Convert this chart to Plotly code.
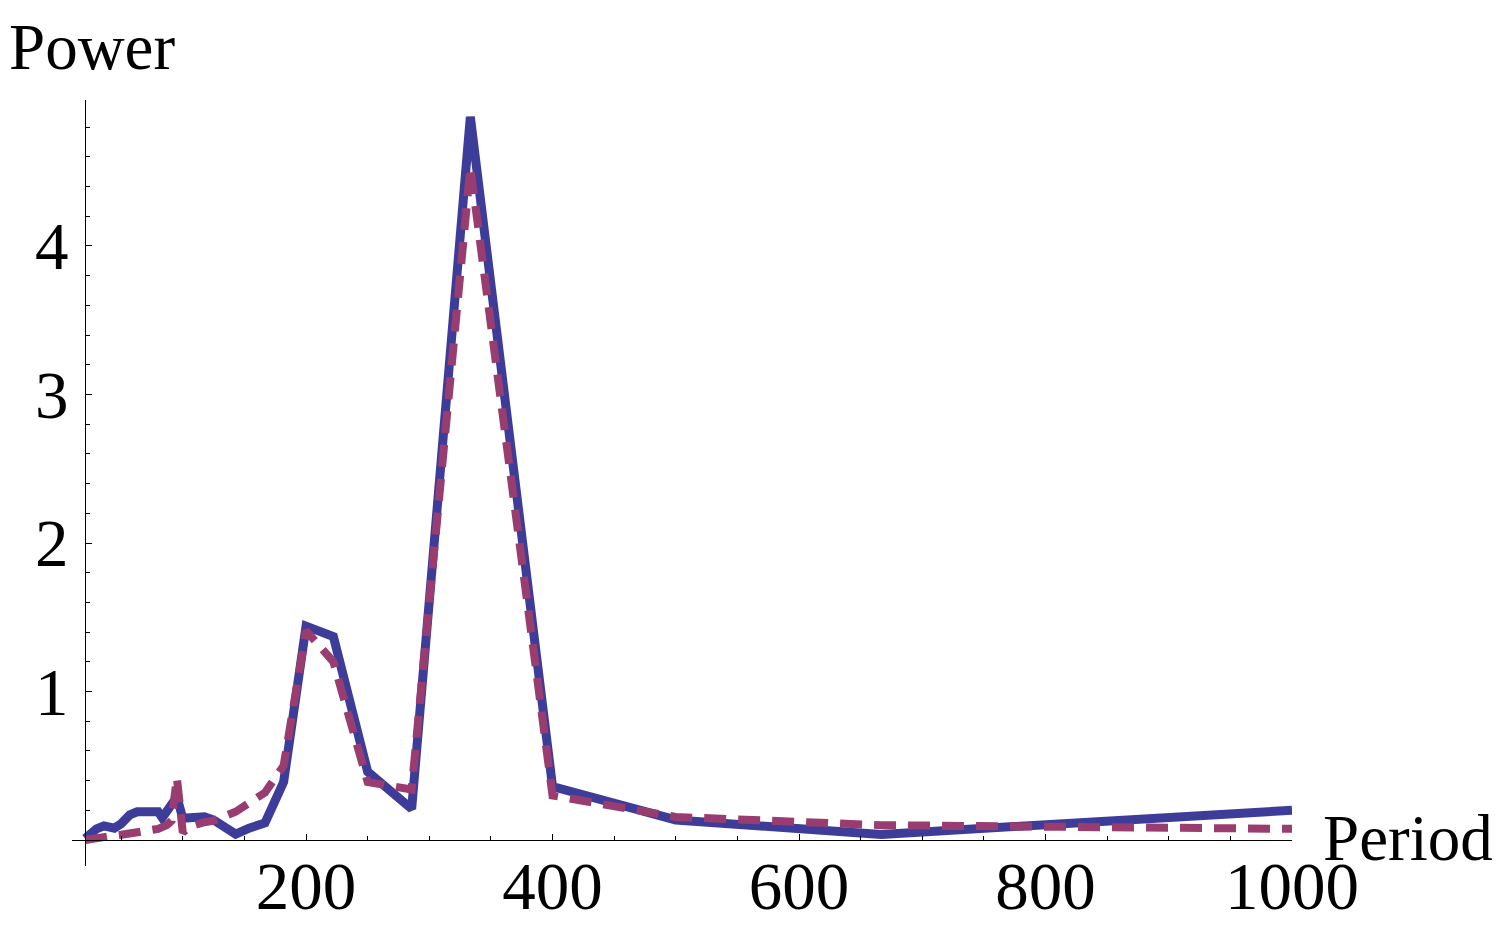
import plotly.graph_objects as go

# Period values (x) and power values for the two series
period_solid = [20.8, 26.0, 30.0, 36.0, 40.0, 44.4, 50.0, 57.0, 63.0, 71.0, 77.0, 80.0, 83.3,
                87.0, 90.9, 95.2, 100.0, 105.3, 111.1, 117.6, 125.0, 133.3, 142.9, 153.8,
                166.7, 181.8, 200.0, 222.2, 250.0, 285.7, 333.3, 400.0, 500.0, 666.7, 1000.0]
power_solid = [0.01, 0.05, 0.075, 0.095, 0.09, 0.08, 0.11, 0.17, 0.19, 0.19, 0.195, 0.19, 0.15,
               0.19, 0.22, 0.29, 0.146, 0.145, 0.145, 0.157, 0.135, 0.09, 0.04, 0.08,
               0.115, 0.39, 1.44, 1.37, 0.46, 0.21, 4.87, 0.36, 0.135, 0.038, 0.20]

period_dashed = [20.8, 28.6, 40.0, 50.0, 60.0, 71.4, 80.0, 87.0, 90.9, 95.2, 100.0, 105.3,
                 111.1, 117.6, 125.0, 133.3, 142.9, 153.8, 166.7, 181.8, 200.0, 222.2,
                 250.0, 285.7, 333.3, 400.0, 500.0, 666.7, 1000.0]
power_dashed = [0.0, 0.015, 0.025, 0.035, 0.05, 0.06, 0.075, 0.1, 0.13, 0.42, 0.05, 0.09,
                0.11, 0.12, 0.13, 0.16, 0.19, 0.25, 0.32, 0.5, 1.41, 1.2,
                0.39, 0.34, 4.53, 0.30, 0.155, 0.10, 0.075]

x_ticks = [200, 400, 600, 800, 1000]
y_ticks = [1, 2, 3, 4]

FONT = "Liberation Serif"
FS = 67
FS_TITLE = 65
BLUE = "#3D3D99"
MAGENTA = "#993D71"

fig = go.Figure()
fig.add_trace(go.Scatter(x=period_solid, y=power_solid, mode="lines",
                         line=dict(color=BLUE, width=9), showlegend=False))
fig.add_trace(go.Scatter(x=period_dashed, y=power_dashed, mode="lines",
                         line=dict(color=MAGENTA, width=8, dash="22px,12px"), showlegend=False))

x_min, x_max = 10.1, 1000.0
y_min, y_max = -0.175, 4.983
y_axis_pos = (20.65 - x_min) / (x_max - x_min)
x_axis_pos = (0 - y_min) / (y_max - y_min)

fig.update_layout(
    width=1492, height=922,
    margin=dict(l=64, r=208, t=92, b=64),
    paper_bgcolor="white", plot_bgcolor="white",
    font=dict(family=FONT, size=FS, color="black"),
    xaxis=dict(range=[x_min, x_max], anchor="free", position=x_axis_pos,
               automargin=False,
               showline=True, linecolor="black", linewidth=1.2,
               showgrid=False, zeroline=False,
               tickmode="array", tickvals=x_ticks, ticktext=[str(v) for v in x_ticks],
               ticks="inside", ticklen=6, tickwidth=1, tickcolor="black",
               ticklabelstandoff=-13,
               minor=dict(dtick=50, tick0=0, ticks="inside", ticklen=3.5, tickwidth=1,
                          tickcolor="black", showgrid=False),
               tickfont=dict(family=FONT, size=FS)),
    yaxis=dict(range=[y_min, y_max], anchor="free", position=y_axis_pos,
               automargin=False,
               showline=True, linecolor="black", linewidth=1.2,
               showgrid=False, zeroline=False,
               tickmode="array", tickvals=y_ticks, ticktext=[str(v) for v in y_ticks],
               ticks="inside", ticklen=6, tickwidth=1, tickcolor="black",
               ticklabelstandoff=3,
               minor=dict(dtick=0.2, tick0=0, ticks="inside", ticklen=3.5, tickwidth=1,
                          tickcolor="black", showgrid=False),
               tickfont=dict(family=FONT, size=FS)),
    annotations=[
        dict(text="Power", xref="paper", yref="paper", x=-0.0522, y=1.069,
             xanchor="left", yanchor="middle", showarrow=False, borderpad=0,
             font=dict(family=FONT, size=FS_TITLE)),
        dict(text="Period", xref="paper", yref="paper", x=1.0235, y=0.0366,
             xanchor="left", yanchor="middle", showarrow=False,
             font=dict(family=FONT, size=FS_TITLE)),
    ],
)

fig.write_html("out.html")
